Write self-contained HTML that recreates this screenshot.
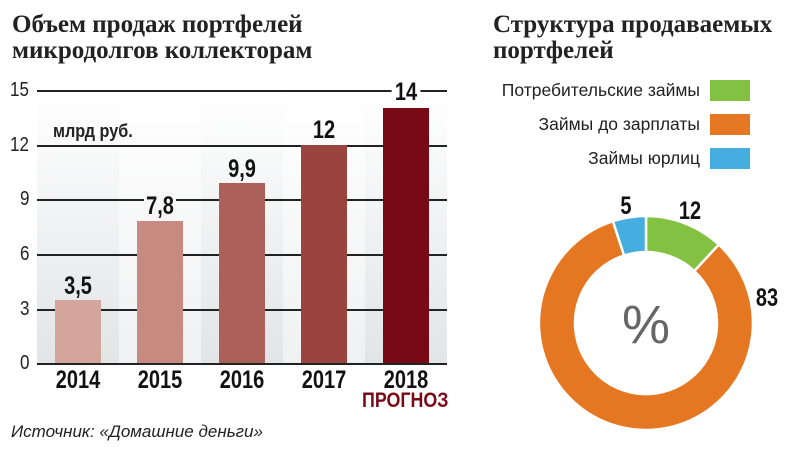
<!DOCTYPE html>
<html><head><meta charset="utf-8"><style>
body{margin:0;width:810px;height:449px;background:#fff;overflow:hidden;position:relative;font-family:"Liberation Sans",sans-serif}
.t{position:absolute;font-family:"Liberation Serif",serif;font-weight:bold;font-size:25px;line-height:26px;color:#222}
.a{position:absolute;font-size:20px;color:#222;transform:scaleX(0.85);transform-origin:left}
.b{position:absolute;font-weight:bold;font-size:25px;color:#111;text-align:center;width:60px;transform:scaleX(0.8)}
.bar{position:absolute;width:46px;bottom:85px}
.g{position:absolute;left:37px;width:410px;height:2px;background:#222}
.col{position:absolute;top:91px;height:273px;width:82px}
.lg{position:absolute;right:110px;font-size:17.5px;color:#222}
.sw{position:absolute;left:710px;width:40px;height:21px}
</style></head><body>
<div class="t" style="left:12px;top:12px">Объем продаж портфелей<br>микродолгов коллекторам</div>
<div class="t" style="left:493px;top:12px">Структура продаваемых<br>портфелей</div>
<div class="col" style="left:37px;background:linear-gradient(#fff,#e2e4e6)"></div>
<div class="col" style="left:119px;background:linear-gradient(#fff,#f0f1f2)"></div>
<div class="col" style="left:201px;background:linear-gradient(#fff,#e2e4e6)"></div>
<div class="col" style="left:283px;background:linear-gradient(#fff,#f0f1f2)"></div>
<div class="col" style="left:365px;background:linear-gradient(#fff,#e2e4e6)"></div>
<div class="g" style="top:90px"></div>
<div class="g" style="top:145px"></div>
<div class="g" style="top:199px"></div>
<div class="g" style="top:254px"></div>
<div class="g" style="top:309px"></div>
<div class="bar" style="left:55px;height:64px;background:#d4a59b"></div>
<div class="bar" style="left:137px;height:143px;background:#c68a80"></div>
<div class="bar" style="left:219px;height:181px;background:#ab6159"></div>
<div class="bar" style="left:301px;height:219px;background:#9a4440"></div>
<div class="bar" style="left:383px;height:256px;background:#780a16"></div>
<div class="g" style="top:363px"></div>
<div class="a" style="left:10px;top:79px">15</div>
<div class="a" style="left:10px;top:134px">12</div>
<div class="a" style="left:20px;top:188px">9</div>
<div class="a" style="left:20px;top:243px">6</div>
<div class="a" style="left:20px;top:298px">3</div>
<div class="a" style="left:20px;top:352px">0</div>
<div style="position:absolute;left:53px;top:121px;font-weight:bold;font-size:18px;color:#222;transform:scaleX(0.9);transform-origin:left">млрд руб.</div>
<div class="b" style="left:48px;top:272px">3,5</div>
<div class="b" style="left:130px;top:192px"><span style="background:#f6f6f7;padding:0 3px">7,8</span></div>
<div class="b" style="left:212px;top:155px">9,9</div>
<div class="b" style="left:294px;top:116px">12</div>
<div class="b" style="left:376px;top:78px"><span style="background:#fff;padding:0 4px">14</span></div>
<div class="b" style="left:48px;top:366px">2014</div>
<div class="b" style="left:130px;top:366px">2015</div>
<div class="b" style="left:212px;top:366px">2016</div>
<div class="b" style="left:294px;top:366px">2017</div>
<div class="b" style="left:376px;top:366px">2018</div>
<div style="position:absolute;left:362px;top:389px;font-weight:bold;font-size:21px;color:#7a0a18;transform:scaleX(0.85);transform-origin:left">ПРОГНОЗ</div>
<div style="position:absolute;left:11px;top:422px;font-style:italic;font-size:17px;color:#222">Источник: «Домашние деньги»</div>
<div class="lg" style="top:80px">Потребительские займы</div>
<div class="lg" style="top:114px">Займы до зарплаты</div>
<div class="lg" style="top:148px">Займы юрлиц</div>
<div class="sw" style="top:80px;background:#82c141"></div>
<div class="sw" style="top:114px;background:#e67722"></div>
<div class="sw" style="top:148px;background:#46ade0"></div>
<svg style="position:absolute;left:0;top:0" width="810" height="449">
<g transform="translate(646,323)" stroke="#fff" stroke-width="2.5">
<path d="M0,-107 A107,107 0 0 1 72.8,-78.4 L48.3,-52 A71,71 0 0 0 0,-71Z" fill="#82c141"/>
<path d="M72.8,-78.4 A107,107 0 1 1 -33.1,-101.8 L-21.9,-67.5 A71,71 0 1 0 48.3,-52Z" fill="#e67722"/>
<path d="M-33.1,-101.8 A107,107 0 0 1 0,-107 L0,-71 A71,71 0 0 0 -21.9,-67.5Z" fill="#46ade0"/>
</g>
<text x="646" y="343" font-family="Liberation Sans,sans-serif" font-size="54" fill="#666" text-anchor="middle">%</text>
<g font-family="Liberation Sans,sans-serif" font-weight="bold" font-size="25" fill="#111" text-anchor="middle">
<text x="626" y="214" transform="translate(626 0) scale(0.8 1) translate(-626 0)">5</text>
<text x="690" y="219" transform="translate(690 0) scale(0.8 1) translate(-690 0)">12</text>
<text x="767" y="306" transform="translate(767 0) scale(0.8 1) translate(-767 0)">83</text>
</g>
</svg>
</body></html>
